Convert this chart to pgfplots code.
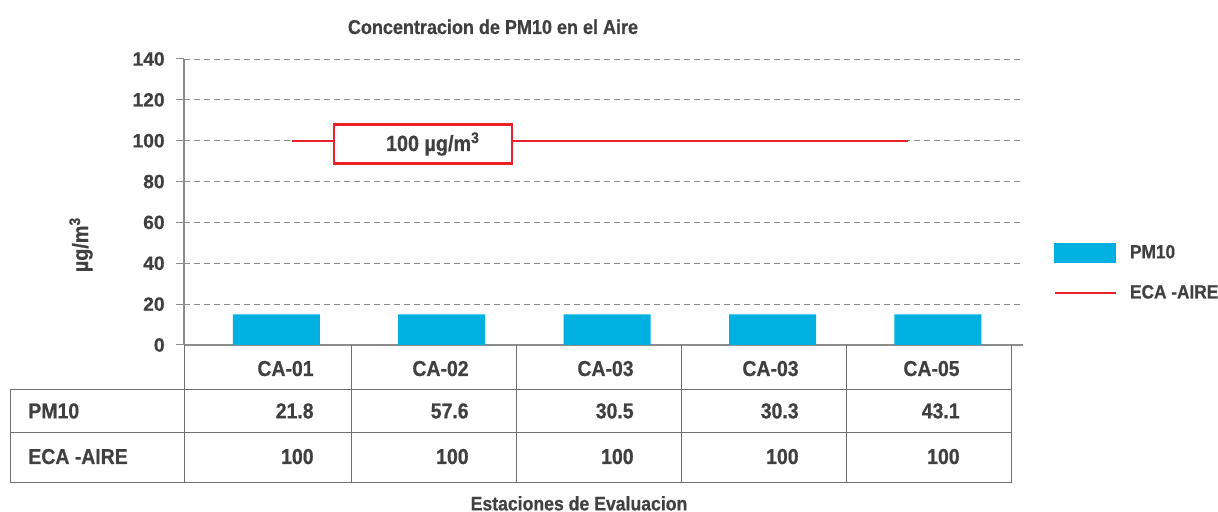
\documentclass[border=0pt]{standalone}
\usepackage{fontspec}
\setmainfont{Liberation Sans}[FakeStretch=0.9, BoldFeatures={FakeBold=0.6}]
\newfontfamily\tickfont{Liberation Sans}[BoldFeatures={FakeBold=0.6}]
\usepackage{pgfplots}
\pgfplotsset{compat=1.18}
\definecolor{txt}{HTML}{404040}
\definecolor{pmcyan}{HTML}{00B0E0}
\definecolor{ecared}{HTML}{E8212B}
\definecolor{tline}{HTML}{707070}
\definecolor{gridc}{HTML}{8C8C8C}
\begin{document}
\begin{tikzpicture}[every node/.style={text=txt}]
\path[use as bounding box] (0,0) rectangle (609pt,256pt);
\begin{axis}[
  at={(92pt,83.5pt)}, anchor=south west,
  scale only axis, width=419.5pt, height=143pt,
  xmin=-0.5, xmax=4.5726, ymin=0, ymax=140,
  axis x line=bottom, axis y line=left,
  axis line style={-, draw=gridc, line width=0.6pt},
  xtick=\empty, ytick={0,20,...,140},
  tick align=outside, major tick length=4pt,
  tick style={gridc, line width=0.5pt},
  ymajorgrids, grid style={gridc, line width=0.4pt, dash pattern=on 3pt off 2pt},
  yticklabel style={font=\tickfont\bfseries\fontsize{9.6}{10}\selectfont, text=txt, anchor=east, inner sep=0pt, xshift=-5.5pt},
  /pgf/number format/assume math mode=true,
  clip=false,
  legend style={at={(axis description cs:1.036,0.357)}, anchor=north west,
    draw=none, fill=none, inner sep=0pt, row sep=11pt, column sep=6.5pt,
    nodes={inner sep=0pt, text=txt, font=\bfseries\fontsize{9.6}{11}\selectfont}},
  legend cell align=left,
]
\addlegendimage{legend image code/.code={\fill[pmcyan] (0pt,-4.75pt) rectangle (30.5pt,4.75pt);}}
\addlegendentry{PM10}
\addlegendimage{legend image code/.code={\draw[ecared, line width=1.2pt] (0pt,0pt) -- (30.5pt,0pt);}}
\addlegendentry{ECA -AIRE}
\addplot[ybar, bar width=43.5pt, bar shift=4.8pt, fill=pmcyan, draw=none, forget plot]
  coordinates {(0,15) (1,15) (2,15) (3,15) (4,15)};
\addplot[ecared, line width=1.2pt, shorten <=12.65pt, shorten >=10.15pt, forget plot]
  coordinates {(0,100) (1,100) (2,100) (3,100) (4,100)};
\node[draw=ecared, line width=1.2pt, fill=white, minimum width=89pt, minimum height=19.5pt, inner sep=0pt] at (axis cs:0.945,98.4) {};
\node[font=\bfseries\fontsize{11}{12}\selectfont] at (axis cs:1.005,98.4) {100 µg/m\textsuperscript{3}};
\end{axis}
% title and labels
\node[anchor=base, font=\bfseries\fontsize{10}{11}\selectfont] at (246.5pt,239pt) {Concentracion de PM10 en el Aire};
\node[anchor=base, rotate=90, font=\bfseries\fontsize{11}{12}\selectfont] at (44pt,133.75pt) {µg/m\textsuperscript{3}};
\node[anchor=base, font=\bfseries\fontsize{9.8}{11}\selectfont] at (289.5pt,0.8pt) {Estaciones de Evaluacion};
% data table
\draw[tline, line width=0.5pt] (5pt,61pt) -- (505.5pt,61pt) (5pt,39.5pt) -- (505.5pt,39.5pt) (5pt,14.5pt) -- (505.5pt,14.5pt) (5pt,61pt) -- (5pt,14.5pt);
\foreach \x in {92,175.5,258,340.5,423,505.5} \draw[tline, line width=0.5pt] (\x pt,83.5pt) -- (\x pt,14.5pt);
\begin{scope}[every node/.style={text=txt, font=\bfseries\fontsize{10.8}{12}\selectfont, inner sep=0pt}]
\node[anchor=base west] at (14pt,46.8pt) {PM10};
\node[anchor=base west] at (14pt,24pt) {ECA -AIRE};
\foreach \xr/\lab/\pm/\eca in {157/CA-01/21.8/100, 234.5/CA-02/57.6/100, 317/CA-03/30.5/100, 399.5/CA-03/30.3/100, 480/CA-05/43.1/100} {
  \node[anchor=base east] at (\xr pt,68pt) {\lab};
  \node[anchor=base east] at (\xr pt,46.8pt) {\pm};
  \node[anchor=base east] at (\xr pt,24pt) {\eca};
}
\end{scope}
\end{tikzpicture}
\end{document}
